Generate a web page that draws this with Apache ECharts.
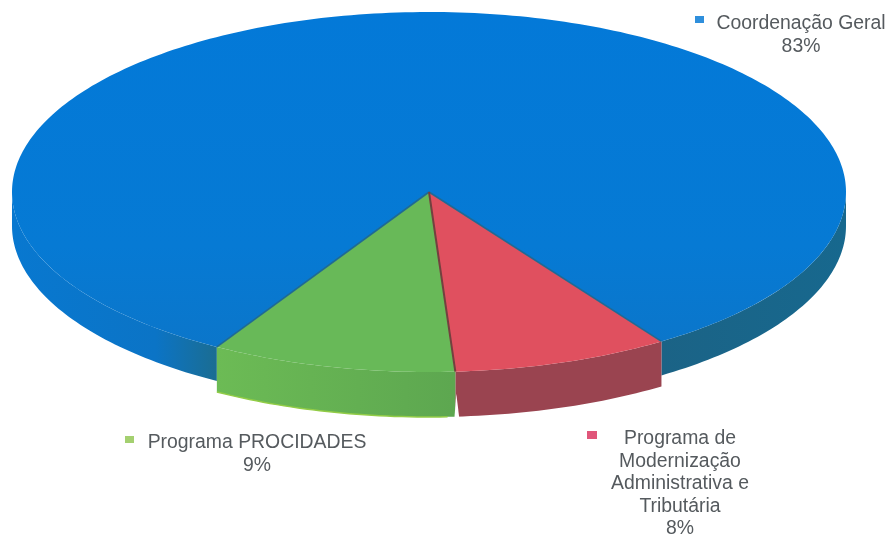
<!DOCTYPE html>
<html>
<head>
<meta charset="utf-8">
<script src="https://cdn.jsdelivr.net/npm/echarts@6/dist/echarts.min.js"></script>
<style>
html,body{margin:0;padding:0;background:#fff}
#c{width:890px;height:536px;filter:blur(0.7px)}
</style>
</head>
<body>
<div id="c"></div>
<script>
// Slices in clockwise order, starting at the blue slice's left edge
const categories = ['Coordenação Geral', 'Programa de Modernização Administrativa e Tributária', 'Programa PROCIDADES'];
const values = [83, 8, 9];
const labelLines = [
  ['Coordenação Geral', '83%'],
  ['Programa de', 'Modernização', 'Administrativa e', 'Tributária', '8%'],
  ['Programa PROCIDADES', '9%']
];

const view = { cx: 429, cy: 192, rx: 417, ry: 180, startDeg: 29.0, warp: 0.065 };
const total = values.reduce((a, b) => a + b, 0);

const looks = [
  { top: new echarts.graphic.LinearGradient(0, 0, 0, 1, [
      { offset: 0, color: '#0379d8' }, { offset: 0.7, color: '#067ad4' }, { offset: 1, color: '#0b76ca' }]),
    depth: 34, labelX: 801, labelY: 24, lh: 23, key: [695, 16, 9, 7], keyColor: '#2f8fdc' },
  { top: '#e0505f', depth: 45, labelX: 680, labelY: 439, lh: 22.5, key: [587, 431, 10, 8], keyColor: '#e0567a' },
  { top: '#68b958', depth: 45, labelX: 257, labelY: 443, lh: 23, key: [125, 436, 9, 7], keyColor: '#a4d070' }
];

function pt(deg, dy) {
  let t = deg * Math.PI / 180;
  t = t + view.warp * Math.sin(2 * t) / 2; // foreshortening of the tilted disc
  return [view.cx - view.rx * Math.sin(t), view.cy + dy + view.ry * Math.cos(t)];
}
function arc(a, b, dy) {
  const out = [], n = Math.max(2, Math.ceil(Math.abs(b - a)));
  for (let i = 0; i <= n; i++) out.push(pt(a + (b - a) * i / n, dy));
  return out;
}
function wall(a, b, depth, fill) {
  return { type: 'polygon', silent: true,
    shape: { points: arc(a, b, 0).concat(arc(b, a, depth)) }, style: { fill: fill } };
}
function renderItem(params, api) {
  const i = params.dataIndex;
  let before = 0;
  for (let k = 0; k < i; k++) before += values[k];
  const a = view.startDeg + before / total * 360;
  const b = a + api.value(0) / total * 360;
  const L = looks[i], kids = [];
  const apex = [view.cx, view.cy];

  if (i === 0) {
    kids.push(wall(a, 90, L.depth, new echarts.graphic.LinearGradient(12, 0, 217, 0, [
      { offset: 0, color: '#0878d0' }, { offset: 0.7, color: '#0b74c6' }, { offset: 1, color: '#1b6d92' }], true)));
    kids.push(wall(270, b, L.depth, new echarts.graphic.LinearGradient(660, 0, 845, 0, [
      { offset: 0, color: '#1b6386' }, { offset: 1, color: '#17688e' }], true)));
  }
  if (i === 1) {
    kids.push(wall(a, b, L.depth, '#9a4450'));
  }
  if (i === 2) {
    kids.push(wall(a, b, L.depth, new echarts.graphic.LinearGradient(217, 0, 453, 0, [
      { offset: 0, color: '#6cbb55' }, { offset: 1, color: '#5da750' }], true)));
    kids.push({ type: 'polyline', silent: true, shape: { points: arc(a + 1, b, L.depth) },
      style: { stroke: '#92cc46', lineWidth: 1.5, fill: null } });
    // the narrow white gap between the two front walls
    const p = pt(a, 0);
    kids.push({ type: 'polygon', silent: true,
      shape: { points: [[p[0] + 1, p[1] + 22], [p[0] + 4, p[1] + L.depth + 2], [p[0] - 1, p[1] + L.depth + 2]] },
      style: { fill: '#fff' } });
  }
  kids.push({ type: 'polygon', silent: true,
    shape: { points: [apex].concat(arc(a, b, 0)) }, style: { fill: L.top } });
  if (i === 1) {
    kids.push({ type: 'line', silent: true,
      shape: { x1: apex[0], y1: apex[1], x2: pt(a, 0)[0], y2: pt(a, 0)[1] },
      style: { stroke: '#1f6a94', lineWidth: 1.6 } });
  }
  if (i === 2) {
    const s = pt(a, 0), e = pt(b, 0);
    kids.push({ type: 'line', silent: true,
      shape: { x1: apex[0], y1: apex[1], x2: e[0], y2: e[1] },
      style: { stroke: '#1f6a94', lineWidth: 1.6 } });
    kids.push({ type: 'line', silent: true,
      shape: { x1: apex[0], y1: apex[1], x2: s[0], y2: s[1] },
      style: { stroke: '#74403f', lineWidth: 2 } });
  }
  kids.push({ type: 'rect', silent: true,
    shape: { x: L.key[0], y: L.key[1], width: L.key[2], height: L.key[3] }, style: { fill: L.keyColor } });
  labelLines[i].forEach(function (line, n) {
    kids.push({ type: 'text', silent: true, style: {
      text: line, x: L.labelX, y: L.labelY + n * L.lh, align: 'center', verticalAlign: 'middle',
      fill: '#555a5e', font: '19.4px "Liberation Sans", Arial, sans-serif' } });
  });
  return { type: 'group', children: kids };
}

const chart = echarts.init(document.getElementById('c'), null, { renderer: 'canvas' });
chart.setOption({
  animation: false,
  backgroundColor: '#fff',
  series: [{
    type: 'custom',
    coordinateSystem: 'none',
    renderItem: renderItem,
    silent: true,
    data: values.map(function (v, i) { return { name: categories[i], value: [v] }; })
  }]
});
</script>
</body>
</html>
